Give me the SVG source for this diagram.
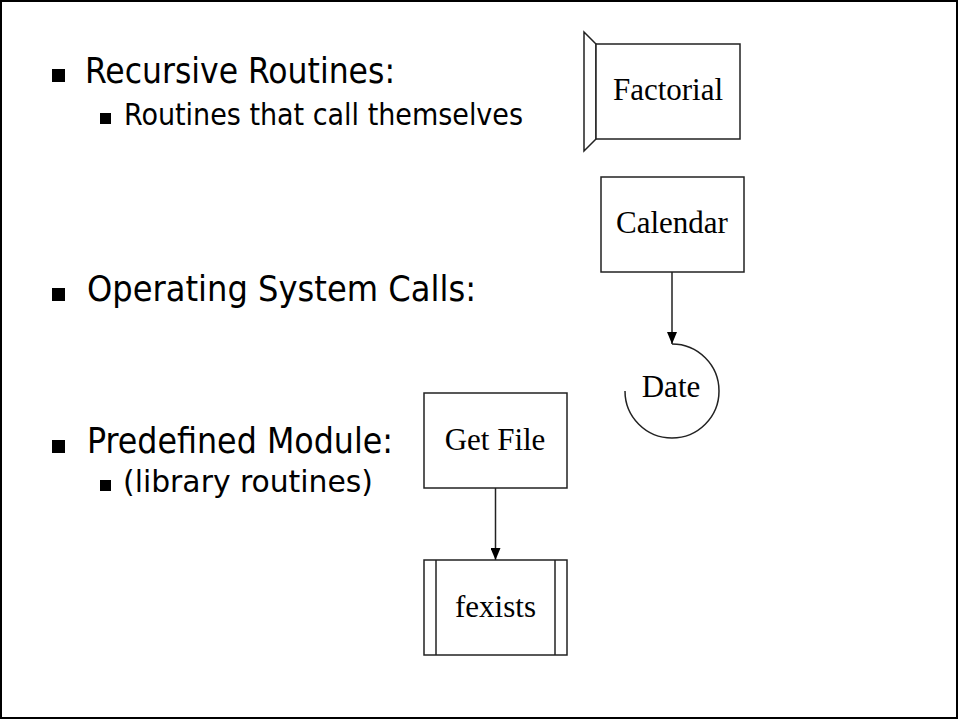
<svg xmlns="http://www.w3.org/2000/svg" width="958" height="719" viewBox="0 0 958 719">
<style>
.frame{fill:#fff;stroke:#000;stroke-width:2}
.shape{fill:#fff;stroke:#222;stroke-width:1.5}
.line{fill:none;stroke:#222;stroke-width:1.5}
.lbl{font-family:"Liberation Serif","Times New Roman",serif;font-size:31px;fill:#000;text-anchor:middle}
.b1{font-family:"DejaVu Sans Condensed","DejaVu Sans",sans-serif;font-stretch:condensed;font-size:36px;fill:#000}
.b2{font-family:"DejaVu Sans Condensed","DejaVu Sans",sans-serif;font-stretch:condensed;font-size:31px;fill:#000}
.sq{fill:#000}
</style>
<defs>
<marker id="arr" viewBox="0 0 12 10" refX="12" refY="5" markerWidth="12" markerHeight="10" markerUnits="userSpaceOnUse" orient="auto">
<path d="M0,0 L12,5 L0,10 Z" fill="#000"/>
</marker>
</defs>
<rect class="frame" x="1" y="1" width="956" height="717"/>
<g id="bullets">
<rect class="sq" x="52" y="69" width="13" height="13"/>
<text class="b1" x="85" y="83" textLength="310" lengthAdjust="spacingAndGlyphs">Recursive Routines:</text>
<rect class="sq" x="100" y="113" width="11" height="11"/>
<text class="b2" x="124" y="125" textLength="399" lengthAdjust="spacingAndGlyphs">Routines that call themselves</text>
<rect class="sq" x="52" y="288" width="13" height="13"/>
<text class="b1" x="87" y="301" textLength="389" lengthAdjust="spacingAndGlyphs">Operating System Calls:</text>
<rect class="sq" x="52" y="440" width="13" height="13"/>
<text class="b1" x="87" y="453" textLength="306" lengthAdjust="spacingAndGlyphs">Predefined Module:</text>
<rect class="sq" x="100" y="480" width="11" height="11"/>
<text class="b2" x="123" y="492" textLength="250" lengthAdjust="spacingAndGlyphs">(library routines)</text>
</g>
<g id="connectors">
<line class="line" x1="672" y1="272" x2="672" y2="344" marker-end="url(#arr)"/>
<line class="line" x1="495.5" y1="488" x2="495.5" y2="560" marker-end="url(#arr)"/>
</g>
<g id="factorial">
<path class="shape" d="M584,32 L596,44 L596,139 L584,151 Z"/>
<rect class="shape" x="596" y="44" width="144" height="95"/>
<text class="lbl" x="668" y="100">Factorial</text>
</g>
<g id="calendar">
<rect class="shape" x="601" y="177" width="143" height="95"/>
<text class="lbl" x="672" y="233">Calendar</text>
</g>
<g id="date">
<path class="line" d="M672,344 A47,47 0 1 1 625,391"/>
<text class="lbl" x="671" y="397">Date</text>
</g>
<g id="getfile">
<rect class="shape" x="424" y="393" width="143" height="95"/>
<text class="lbl" x="495" y="450">Get File</text>
</g>
<g id="fexists">
<rect class="shape" x="424" y="560" width="143" height="95"/>
<line class="line" x1="436" y1="560" x2="436" y2="655"/>
<line class="line" x1="555" y1="560" x2="555" y2="655"/>
<text class="lbl" x="495.5" y="617">fexists</text>
</g>
</svg>
